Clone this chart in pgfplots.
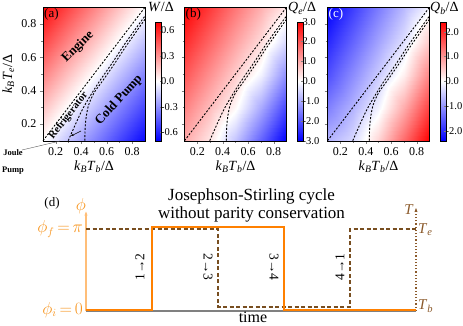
\documentclass[border=0pt]{standalone}
\usepackage{pgfplots}
\pgfplotsset{compat=1.18}
\usepackage{fontspec}
\setmainfont{Liberation Serif}
\usetikzlibrary{arrows.meta}

\definecolor{phiorange}{RGB}{255,128,0}
\definecolor{phitext}{RGB}{247,148,29}
\definecolor{phiaxis}{RGB}{255,190,120}
\definecolor{tbrown}{RGB}{120,78,32}
\definecolor{tlabel}{RGB}{139,90,43}

\newcommand{\fs}[1]{\fontsize{#1}{#1}\selectfont}
\newcommand{\kT}[1]{\textit{k}\textsubscript{\textit{B}}\textit{T}\textsubscript{\textit{#1}}/Δ}

% grid values (Te rows, Tb columns)
\pgfplotstableread{
tb  te  w      qe     qb
0.1 0.1  0.00  0.96  -0.70
0.3 0.1 -0.17  0.28  -0.35
0.5 0.1 -0.34 -0.70   0.40
0.7 0.1 -0.51 -1.85   1.41
0.9 0.1 -0.68 -3.00   2.40
0.1 0.3  0.17  1.47  -1.20
0.3 0.3  0.00  0.79  -0.72
0.5 0.3 -0.17  0.10  -0.14
0.7 0.3 -0.34 -0.99   0.77
0.9 0.3 -0.51 -2.15   1.76
0.1 0.5  0.34  1.98  -1.66
0.3 0.5  0.17  1.30  -1.09
0.5 0.5  0.00  0.61  -0.51
0.7 0.5 -0.17 -0.13   0.13
0.9 0.5 -0.34 -1.29   1.12
0.1 0.7  0.51  2.49  -2.03
0.3 0.7  0.34  1.81  -1.46
0.5 0.7  0.17  1.12  -0.88
0.7 0.7  0.00  0.43  -0.30
0.9 0.7 -0.17 -0.43   0.48
0.1 0.9  0.68  3.00  -2.40
0.3 0.9  0.51  2.32  -1.83
0.5 0.9  0.34  1.63  -1.25
0.7 0.9  0.17  0.94  -0.66
0.9 0.9  0.00  0.26  -0.09
}\maps

\pgfplotstableread{
tb te
0.1 0.1
0.9 0.9
}\lineone
\pgfplotstableread{
tb te
0.298 0.100
0.407 0.284
0.524 0.434
0.641 0.564
0.745 0.684
0.900 0.848
}\linetwo
\pgfplotstableread{
tb te
0.428 0.100
0.433 0.204
0.454 0.304
0.498 0.384
0.563 0.454
0.654 0.554
0.758 0.674
0.900 0.828
}\linethree

\pgfplotsset{
  /pgf/number format/assume math mode=true,
  tick label style={font=\fs{12}},
  heat/.style={
    scale only axis, width=102pt, height=133.4pt,
    xmin=0.1, xmax=0.9, ymin=0.1, ymax=0.9,
    xtick={0.2,0.4,0.6,0.8}, ytick={0.2,0.4,0.6,0.8},
    minor tick num=1, tick align=outside, tick pos=left,
    major tick length=3pt, minor tick length=2pt,
    axis on top, enlargelimits=false, clip=false,
    colormap={bwr}{rgb255=(0,0,255) rgb255=(255,255,255) rgb255=(255,0,0)},
    xlabel={\kT{b}},
    every axis x label/.style={at={(axis description cs:0.5,-0.15)}, anchor=north, inner sep=0pt, font=\fs{14}},
    every axis y label/.style={at={(axis description cs:-0.34,0.5)}, anchor=center, rotate=90, inner sep=0pt, font=\fs{14}},
    colorbar,
  },
  cbar/.style={
    colorbar style={
      scale only axis, width=6pt, height=119pt,
      at={(parent axis.south east)}, anchor=south west, xshift=2pt,
      ytick pos=right, tick align=inside, major tick length=2pt,
      yticklabel style={font=\fs{10.5}, inner sep=0.5pt, xshift=-1pt},
      #1
    }
  },
  dline/.style={black, line width=0.9pt, dash pattern=on 2pt off 1.6pt},
}

\begin{document}
\begin{tikzpicture}
\path[use as bounding box] (0pt,0pt) rectangle (463pt,325pt);

% (a)
\begin{axis}[heat, at={(43pt,184.3pt)}, anchor=south west,
    ylabel={\kT{e}},
    point meta min=-0.7, point meta max=0.7,
    cbar={ytick={-0.6,-0.3,0,0.3,0.6}, yticklabels={-0.6,-0.3,0.0,0.3,0.6}}]
  \addplot[surf, shader=interp, mesh/cols=5, point meta=explicit] table[x=tb, y=te, meta=w] {\maps};
  \addplot[dline] table[x=tb, y=te] {\lineone};
  \addplot[dline, smooth] table[x=tb, y=te] {\linetwo};
  \addplot[dline, smooth] table[x=tb, y=te] {\linethree};
  \node[anchor=north west, font=\fs{13}, inner sep=1pt] at (rel axis cs:0,1) {(a)};
  \node[rotate=45, font=\fs{13}\bfseries] at (axis cs:0.375,0.662) {Engine};
  \node[rotate=48, font=\fs{13}\bfseries] at (axis cs:0.696,0.344) {Cold Pump};
  \node[rotate=52, font=\fs{10.5}\bfseries] at (axis cs:0.300,0.250) {Refrigerator};
\end{axis}

% (b)
\begin{axis}[heat, at={(184.5pt,184.3pt)}, anchor=south west,
    yticklabels={},
    point meta min=-3, point meta max=3,
    cbar={ytick={-3,-2,-1,0,1,2,3}, yticklabels={-3.0,-2.0,-1.0,0.0,1.0,2.0,3.0}}]
  \addplot[surf, shader=interp, mesh/cols=5, point meta=explicit] table[x=tb, y=te, meta=qe] {\maps};
  \addplot[dline] table[x=tb, y=te] {\lineone};
  \addplot[dline, smooth] table[x=tb, y=te] {\linetwo};
  \addplot[dline, smooth] table[x=tb, y=te] {\linethree};
  \node[anchor=north west, font=\fs{13}, inner sep=1pt] at (rel axis cs:0,1) {(b)};
\end{axis}

% (c)
\begin{axis}[heat, at={(327.5pt,184.3pt)}, anchor=south west,
    yticklabels={},
    point meta min=-2.4, point meta max=2.4,
    cbar={ytick={-2,-1,0,1,2}, yticklabels={-2.0,-1.0,0.0,1.0,2.0}}]
  \addplot[surf, shader=interp, mesh/cols=5, point meta=explicit] table[x=tb, y=te, meta=qb] {\maps};
  \addplot[dline] table[x=tb, y=te] {\lineone};
  \addplot[dline, smooth] table[x=tb, y=te] {\linetwo};
  \addplot[dline, smooth] table[x=tb, y=te] {\linethree};
  \node[anchor=north west, font=\fs{13}, inner sep=1pt, text=white] at (rel axis cs:0,1) {(c)};
\end{axis}

% colorbar titles
\node[anchor=base west, font=\fs{14}, inner sep=0pt] at (148pt,313pt) {\textit{W}/Δ};
\node[anchor=base west, font=\fs{14}, inner sep=0pt] at (288pt,313pt) {\textit{Q}\textsubscript{\textit{e}}/Δ};
\node[anchor=base west, font=\fs{14}, inner sep=0pt] at (430pt,313pt) {\textit{Q}\textsubscript{\textit{b}}/Δ};

% Joule pump note and refrigerator arrow
\draw[gray!70!black, line width=0.4pt] (22pt,175pt) -- (60pt,184pt);
\node[font=\fs{8.5}\bfseries, inner sep=0pt] at (13pt,172pt) {Joule};
\node[font=\fs{8.5}\bfseries, inner sep=0pt] at (13pt,154pt) {Pump};
\draw[-{Stealth[length=3pt]}, line width=0.6pt] (81pt,194pt) -- (71pt,189pt);

% (d) Josephson-Stirling cycle
\begin{axis}[at={(86pt,14pt)}, anchor=south west, scale only axis,
    width=330pt, height=100pt, xmin=0, xmax=1, ymin=0, ymax=1,
    axis lines=none, clip=false]
  \addplot[gray, line width=1.5pt] coordinates {(0,0) (1,0)};
  \addplot[phiaxis, line width=1.2pt, -{Stealth[length=4pt]}] coordinates {(0,0) (0,0.995)};
  \addplot[tlabel, line width=1.2pt, dotted, -{Stealth[length=4pt]}] coordinates {(1,0) (1,1.03)};
  \addplot[tbrown, line width=2pt, dash pattern=on 4pt off 2.5pt] coordinates {(0,0.817) (0.4,0.817) (0.4,0.043) (0.8,0.043) (0.8,0.817) (1,0.817)};
  \addplot[phiorange, line width=1.8pt] coordinates {(0,0.01) (0.2,0.01) (0.2,0.843) (0.6,0.843) (0.6,0.01) (1,0.01)};
\end{axis}

\node[font=\fs{13}] at (52pt,122pt) {(d)};
\node[font=\fs{17}, align=center, inner sep=0pt] at (251.5pt,120pt) {Josephson-Stirling cycle\\[1pt]without parity conservation};
\node[text=phitext, font=\fs{16}] at (81pt,119pt) {$\phi$};
\node[text=phitext, font=\fs{16}, anchor=east, inner sep=1pt] at (84pt,96pt) {$\phi_f\,{=}\,\pi$};
\node[text=phitext, font=\fs{16}, anchor=east, inner sep=1pt] at (84pt,15pt) {$\phi_i\,{=}\,0$};
\node[text=tlabel, font=\fs{15}] at (409pt,115pt) {\textit{T}};
\node[text=tlabel, font=\fs{15}, anchor=west, inner sep=1pt] at (417pt,95pt) {\textit{T}\textsubscript{\textit{e}}};
\node[text=tlabel, font=\fs{15}, anchor=west, inner sep=1pt] at (417pt,19pt) {\textit{T}\textsubscript{\textit{b}}};
\node[font=\fs{13.5}, rotate=90] at (140pt,58pt) {1→2};
\node[font=\fs{13.5}, rotate=-90] at (208pt,58pt) {2→3};
\node[font=\fs{13.5}, rotate=-90] at (274pt,58pt) {3→4};
\node[font=\fs{13.5}, rotate=90] at (340pt,58pt) {4→1};
\node[font=\fs{16}, inner sep=0pt] at (253pt,8pt) {time};
\end{tikzpicture}
\end{document}
